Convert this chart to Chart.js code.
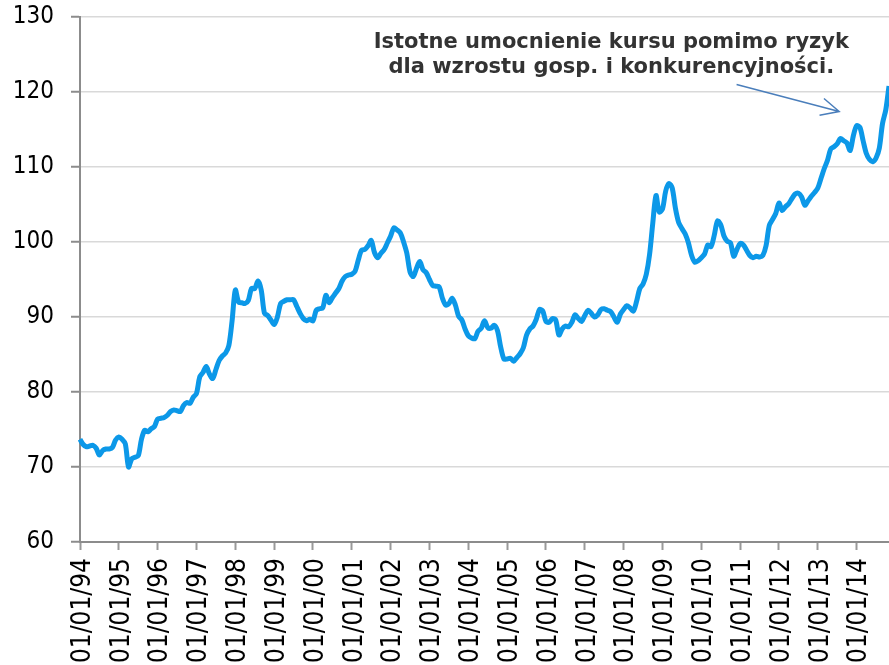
<!DOCTYPE html>
<html>
<head>
<meta charset="utf-8">
<script src="https://cdn.jsdelivr.net/npm/chart.js@4.4.0/dist/chart.umd.min.js"></script>
<style>
  html, body { margin: 0; padding: 0; background: #fff; }
  #wrap { width: 889px; height: 665px; }
</style>
</head>
<body>
<div id="wrap"><canvas id="myChart"></canvas></div>
<script>
// kurs - dane miesięczne od 01/1994
var rate1994 = [73.7, 73.0, 72.7, 72.8, 72.9, 72.5, 71.6, 72.2, 72.4, 72.4, 72.6, 73.6];
var rate1995 = [74.0, 73.7, 73.1, 70.0, 71.1, 71.3, 71.5, 73.7, 74.9, 74.7, 75.1, 75.4];
var rate1996 = [76.4, 76.5, 76.6, 76.9, 77.4, 77.6, 77.5, 77.4, 78.2, 78.6, 78.5, 79.3];
var rate1997 = [79.8, 82.0, 82.6, 83.4, 82.4, 81.8, 83.0, 84.2, 84.8, 85.2, 86.2, 89.5];
var rate1998 = [93.6, 92.0, 91.9, 91.8, 92.2, 93.8, 93.8, 94.8, 93.6, 90.5, 90.2, 89.6];
var rate1999 = [89.0, 90.0, 91.8, 92.1, 92.3, 92.3, 92.3, 91.4, 90.5, 89.8, 89.5, 89.7];
var rate2000 = [89.5, 90.9, 91.1, 91.2, 92.9, 91.9, 92.6, 93.2, 93.8, 94.8, 95.4, 95.6];
var rate2001 = [95.7, 96.1, 97.6, 98.9, 99.0, 99.5, 100.2, 98.6, 97.9, 98.5, 99.0, 99.9];
var rate2002 = [100.8, 101.9, 101.6, 101.2, 100.0, 98.5, 96.0, 95.4, 96.5, 97.4, 96.3, 95.9];
var rate2003 = [95.0, 94.2, 94.1, 94.0, 92.5, 91.6, 91.8, 92.5, 91.6, 90.1, 89.6, 88.4];
var rate2004 = [87.5, 87.2, 87.1, 88.1, 88.5, 89.5, 88.6, 88.5, 88.9, 88.2, 86.0, 84.4];
var rate2005 = [84.4, 84.5, 84.1, 84.6, 85.1, 85.9, 87.6, 88.4, 88.8, 89.7, 91.0, 90.8];
var rate2006 = [89.4, 89.3, 89.8, 89.6, 87.6, 88.4, 88.8, 88.7, 89.3, 90.3, 89.8, 89.4];
var rate2007 = [90.2, 90.9, 90.5, 90.0, 90.3, 91.0, 91.1, 90.9, 90.7, 90.0, 89.3, 90.4];
var rate2008 = [91.0, 91.5, 91.2, 90.8, 92.1, 93.8, 94.4, 95.7, 98.3, 102.5, 106.2, 104.0];
var rate2009 = [104.4, 106.8, 107.8, 107.2, 104.5, 102.6, 101.8, 101.1, 99.9, 98.2, 97.3, 97.5];
var rate2010 = [97.9, 98.4, 99.6, 99.4, 100.9, 102.8, 102.3, 100.8, 100.1, 99.9, 98.1, 99.0];
var rate2011 = [99.8, 99.6, 98.9, 98.2, 97.9, 98.1, 98.0, 98.2, 99.5, 102.2, 103.0, 103.8];
var rate2012 = [105.2, 104.2, 104.7, 105.1, 105.8, 106.4, 106.5, 106.0, 104.9, 105.5, 106.1, 106.6];
var rate2013 = [107.2, 108.5, 109.8, 110.9, 112.4, 112.7, 113.1, 113.8, 113.5, 113.2, 112.2, 114.2];
var rate2014 = [115.5, 115.3, 113.5, 111.8, 111.0, 110.7, 111.2, 112.5, 115.8, 117.6, 120.8];

var rateData = [].concat(rate1994, rate1995, rate1996, rate1997, rate1998, rate1999, rate2000,
  rate2001, rate2002, rate2003, rate2004, rate2005, rate2006, rate2007, rate2008, rate2009,
  rate2010, rate2011, rate2012, rate2013, rate2014);

var firstYear = 1994;
var yTicks = [60, 70, 80, 90, 100, 110, 120, 130];
var noteLines = ['Istotne umocnienie kursu pomimo ryzyk', 'dla wzrostu gosp. i konkurencyjności.'];

// etykiety miesięcy dd/mm/rr
function pad(n) { return (n < 10 ? '0' : '') + n; }
var labels = [];
for (var i = 0; i < rateData.length; i++) {
  var y = firstYear + Math.floor(i / 12);
  labels.push('01/' + pad(i % 12 + 1) + '/' + pad(y % 100));
}

// komentarz ze strzałką
var notePlugin = {
  id: 'note',
  afterDraw: function(chart) {
    var c = chart.ctx;
    var xs = chart.scales.x, ys = chart.scales.y;
    c.save();
    c.fillStyle = '#333333';
    c.font = 'bold 21px "DejaVu Sans"';
    c.textAlign = 'center';
    c.textBaseline = 'alphabetic';
    var cx = xs.getPixelForValue(164.2);
    c.fillText(noteLines[0], cx, ys.getPixelForValue(125.83));
    c.fillText(noteLines[1], cx, ys.getPixelForValue(122.5));

    var x1 = xs.getPixelForValue(202.9), y1 = ys.getPixelForValue(121.0);
    var x2 = xs.getPixelForValue(234.6), y2 = ys.getPixelForValue(117.4);
    c.strokeStyle = '#4a7ebb';
    c.lineWidth = 1.5;
    c.beginPath();
    c.moveTo(x1, y1);
    c.lineTo(x2, y2);
    var a = Math.atan2(y2 - y1, x2 - x1);
    var len = 20, spread = 0.45;
    c.moveTo(x2 - len * Math.cos(a - spread), y2 - len * Math.sin(a - spread));
    c.lineTo(x2, y2);
    c.lineTo(x2 - len * Math.cos(a + spread), y2 - len * Math.sin(a + spread));
    c.stroke();
    c.restore();
  }
};

var ctx = document.getElementById('myChart');
var myChart = new Chart(ctx, {
  type: 'line',
  data: {
    labels: labels,
    datasets: [{
      data: rateData,
      borderColor: '#0c98e8',
      borderWidth: 5,
      pointRadius: 0,
      tension: 0.3,
      fill: false,
      clip: false
    }]
  },
  options: {
    responsive: true,
    maintainAspectRatio: false,
    animation: false,
    layout: { padding: { top: 17, right: 0, left: 0, bottom: 0 } },
    plugins: { legend: { display: false }, tooltip: { enabled: false } },
    scales: {
      x: {
        offset: false,
        grid: { display: true, drawOnChartArea: false, drawTicks: true, tickLength: 8, tickColor: '#999999', tickWidth: 2 },
        border: { color: '#8c8c8c', width: 2 },
        ticks: {
          autoSkip: false,
          minRotation: 90,
          maxRotation: 90,
          padding: 8,
          labelOffset: 3,
          color: '#000',
          font: { family: '"DejaVu Sans Condensed"', size: 26 },
          callback: function(val, idx) {
            return idx % 12 === 0 ? this.getLabelForValue(val) : null;
          }
        },
        afterFit: function(scale) {
          scale.height = 123;
          scale.paddingLeft = 0;
          scale.paddingRight = 0;
        }
      },
      y: {
        min: yTicks[0],
        max: yTicks[yTicks.length - 1],
        afterBuildTicks: function(scale) {
          scale.ticks = yTicks.map(function(v) { return { value: v }; });
        },
        grid: { color: '#d9d9d9', lineWidth: 1.5, tickLength: 9, tickColor: '#8c8c8c', tickWidth: 2 },
        border: { color: '#8c8c8c', width: 2 },
        ticks: {
          padding: 17,
          color: '#000',
          font: { family: '"DejaVu Sans Condensed"', size: 24 }
        },
        afterFit: function(scale) {
          scale.width = 80;
          scale.paddingTop = 0;
          scale.paddingBottom = 0;
        }
      }
    }
  },
  plugins: [notePlugin]
});
</script>
</body>
</html>
